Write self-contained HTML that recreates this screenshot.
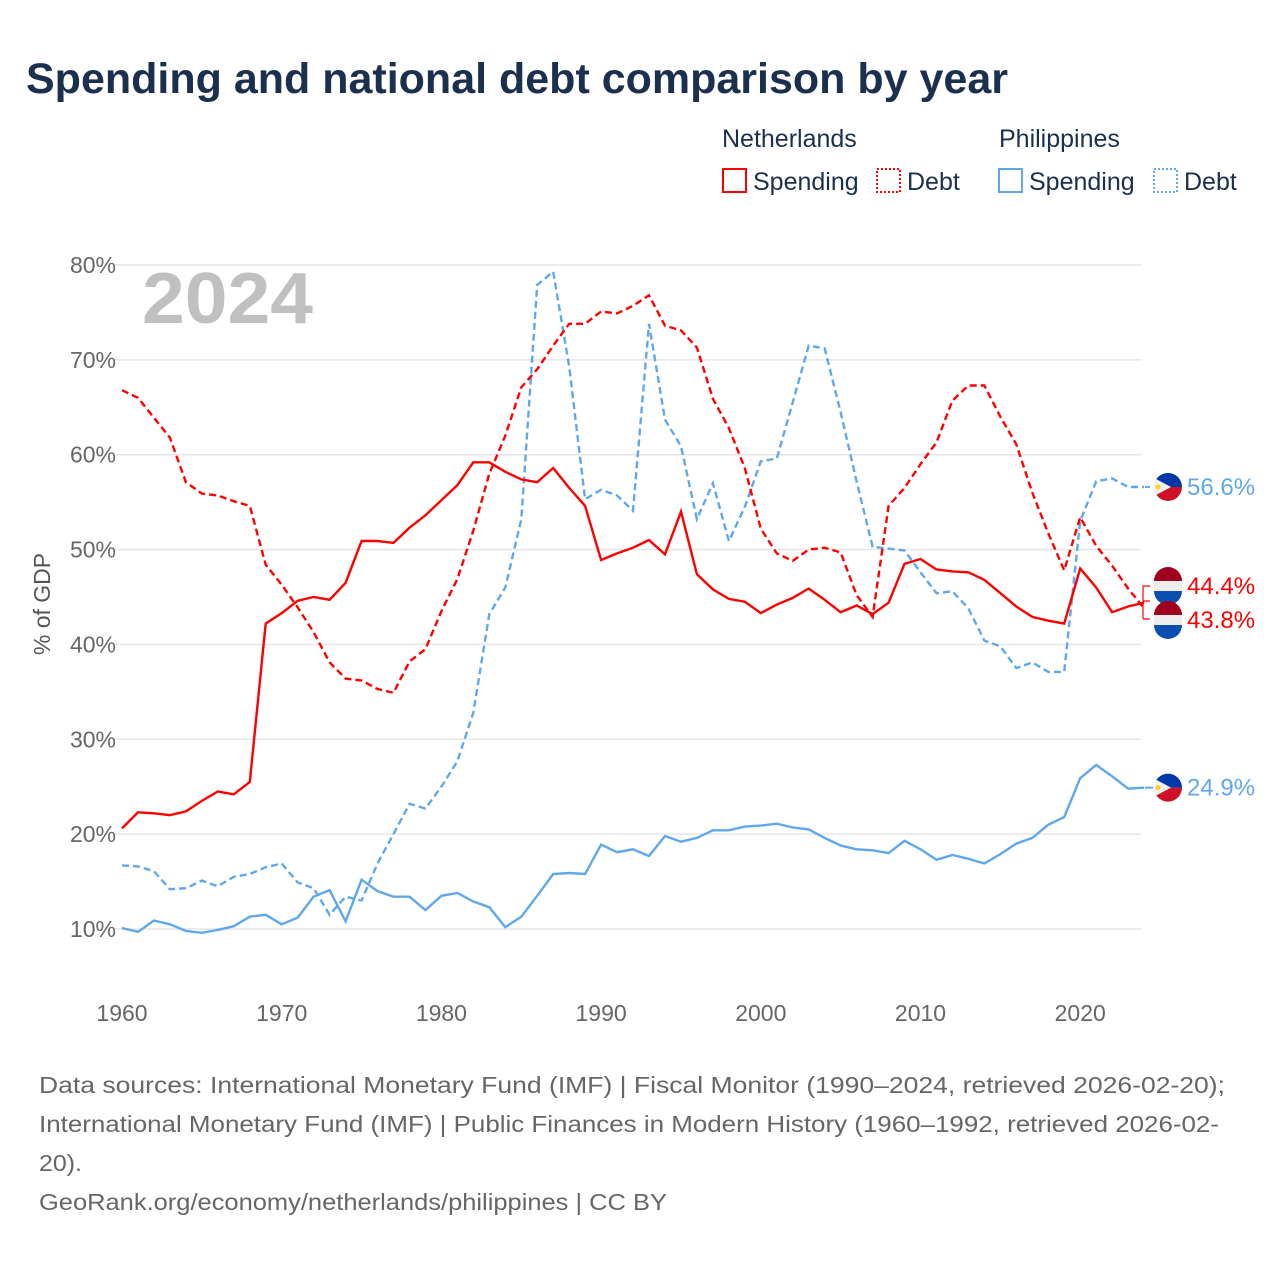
<!DOCTYPE html>
<html><head><meta charset="utf-8"><style>
body{margin:0;width:1280px;height:1280px;background:#fff;font-family:"Liberation Sans",sans-serif;overflow:hidden}
svg{position:absolute;left:0;top:0}
</style></head><body>
<svg id="c" width="1280" height="1280">
<text x="26" y="93" font-size="43" font-weight="bold" fill="#1b2f4e">Spending and national debt comparison by year</text>
<g font-size="25" fill="#1b2f4e">
<text x="722" y="147">Netherlands</text>
<text x="999" y="147">Philippines</text>
<rect x="723" y="169" width="23" height="23" fill="none" stroke="#f00" stroke-width="2"/>
<text x="753" y="190">Spending</text>
<rect x="877" y="169" width="23" height="23" fill="none" stroke="#f00" stroke-width="2" stroke-dasharray="2,2"/>
<text x="907" y="190">Debt</text>
<rect x="999" y="169" width="23" height="23" fill="none" stroke="#5fa8ec" stroke-width="2"/>
<text x="1029" y="190">Spending</text>
<rect x="1154" y="169" width="23" height="23" fill="none" stroke="#5fa8ec" stroke-width="2" stroke-dasharray="2,2"/>
<text x="1184" y="190">Debt</text>
</g>
<g id="grid"></g>
<text x="142" y="323" font-size="72" font-weight="bold" fill="#c0c0c0" textLength="171" lengthAdjust="spacingAndGlyphs">2024</text>
<text transform="translate(50,604) rotate(-90)" text-anchor="middle" font-size="23" fill="#555">% of GDP</text>
<g id="lines"></g>
<g id="ends"></g>
<g font-size="23" fill="#666">
<text x="39" y="1093" textLength="1186" lengthAdjust="spacingAndGlyphs">Data sources: International Monetary Fund (IMF) | Fiscal Monitor (1990–2024, retrieved 2026-02-20);</text>
<text x="39" y="1132" textLength="1180" lengthAdjust="spacingAndGlyphs">International Monetary Fund (IMF) | Public Finances in Modern History (1960–1992, retrieved 2026-02-</text>
<text x="39" y="1171" textLength="43" lengthAdjust="spacingAndGlyphs">20).</text>
<text x="39" y="1210" textLength="628" lengthAdjust="spacingAndGlyphs">GeoRank.org/economy/netherlands/philippines | CC BY</text>
</g>
</svg>
<script>
const years=[];for(let y=1960;y<=2024;y++)years.push(y);
const yTicks=[10,20,30,40,50,60,70,80];
const xTicks=[1960,1970,1980,1990,2000,2010,2020];
const nlSpending=[20.6,22.3,22.2,22.0,22.4,23.5,24.5,24.2,25.5,42.2,43.3,44.6,45.0,44.7,46.5,50.9,50.9,50.7,52.3,53.6,55.2,56.8,59.2,59.2,58.2,57.4,57.1,58.6,56.5,54.6,48.9,49.6,50.2,51.0,49.5,54.0,47.4,45.8,44.8,44.5,43.3,44.2,44.9,45.9,44.7,43.4,44.1,43.2,44.4,48.5,49.0,47.9,47.7,47.6,46.8,45.4,44.0,42.9,42.5,42.2,48.0,46.0,43.4,44.0,44.4];
const nlDebt=[66.8,66.0,63.9,61.8,57.1,55.9,55.7,55.1,54.6,48.4,46.3,43.9,41.3,38.1,36.4,36.2,35.3,34.9,38.2,39.5,43.5,46.9,52.0,58.0,62.0,67.1,69.0,71.5,73.8,73.8,75.1,74.9,75.7,76.8,73.6,73.1,71.3,65.9,62.8,58.6,52.2,49.6,48.8,50.0,50.2,49.7,45.2,42.9,54.6,56.5,59.0,61.3,65.7,67.3,67.3,64.0,61.1,56.0,51.7,47.8,53.4,50.4,48.3,45.9,43.8];
const phSpending=[10.1,9.7,10.9,10.5,9.8,9.6,9.9,10.3,11.3,11.5,10.5,11.2,13.4,14.1,10.8,15.2,14.0,13.4,13.4,12.0,13.5,13.8,12.9,12.3,10.2,11.3,13.5,15.8,15.9,15.8,18.9,18.1,18.4,17.7,19.8,19.2,19.6,20.4,20.4,20.8,20.9,21.1,20.7,20.5,19.6,18.8,18.4,18.3,18.0,19.3,18.4,17.3,17.8,17.4,16.9,17.9,19.0,19.6,21.0,21.8,25.9,27.3,26.1,24.8,24.9];
const phDebt=[16.7,16.6,16.1,14.2,14.3,15.1,14.5,15.5,15.8,16.5,16.9,14.9,14.3,11.5,13.4,13.0,16.9,20.0,23.2,22.7,25.0,27.7,32.8,43.2,46.0,53.2,77.9,79.3,69.3,55.3,56.3,55.7,54.1,73.8,63.7,60.9,53.2,57.0,50.9,54.5,59.3,59.6,65.5,71.5,71.2,64.5,57.2,50.3,50.1,49.9,47.6,45.4,45.6,43.8,40.4,39.8,37.5,38.1,37.1,37.1,53.0,57.2,57.5,56.6,56.6];
const X=y=>122+(y-1960)*15.97;
const Y=v=>929-(v-10)*9.486;
const NS='http://www.w3.org/2000/svg';
function mk(t,a,p){const e=document.createElementNS(NS,t);for(const k in a)e.setAttribute(k,a[k]);p.appendChild(e);return e;}
const grid=document.getElementById('grid');
yTicks.forEach(v=>{
  const l=mk('line',{x1:115,x2:1141,y1:Y(v),y2:Y(v),stroke:'#e6e6e6','stroke-width':1.5},grid);
  
  
  const t=mk('text',{x:116,y:Y(v)+8,'text-anchor':'end','font-size':23,fill:'#666'},grid);
  t.textContent=v+'%';
  
  
});
xTicks.forEach(y=>{
  const t=mk('text',{x:X(y),y:1021,'text-anchor':'middle','font-size':23,fill:'#666'},grid);
  t.textContent=y;
  
  
});
const lines=document.getElementById('lines');
function series(vals,color,dash,name){
  const d=vals.map((v,i)=>(i?'L':'M')+X(years[i]).toFixed(1)+','+Y(v).toFixed(1)).join('');
  const p=mk('path',{d:d,fill:'none',stroke:color,'stroke-width':2.4,'stroke-dasharray':dash},lines);
  
  
}
series(phDebt,'#5fa8ec','7,4','line-philippines-debt');
series(phSpending,'#5fa8ec','none','line-philippines-spending');
series(nlDebt,'#f00','7,4','line-netherlands-debt');
series(nlSpending,'#f00','none','line-netherlands-spending');
const ends=document.getElementById('ends');
function flagPH(cx,cy,g){
  mk('path',{d:`M${cx-14},${cy} A14,14 0 0 1 ${cx+14},${cy} Z`,fill:'#0038a8'},g);
  mk('path',{d:`M${cx-14},${cy} A14,14 0 0 0 ${cx+14},${cy} Z`,fill:'#ce1126'},g);
  mk('path',{d:`M${cx-12},${cy-8} L${cx+3},${cy} L${cx-12},${cy+8} A14,14 0 0 1 ${cx-12},${cy-8} Z`,fill:'#f2f2f2'},g);
  mk('circle',{cx:cx-10,cy:cy,r:2.5,fill:'#fcd116'},g);
}
function flagNL(cx,cy,g){
  mk('path',{d:`M${cx-14},${cy-5} A14,14 0 0 1 ${cx+14},${cy-5} Z`,fill:'#a0001e'},g);
  mk('rect',{x:cx-14,y:cy-5,width:28,height:10,fill:'#eee'},g);
  mk('path',{d:`M${cx-14},${cy+5} A14,14 0 0 0 ${cx+14},${cy+5} Z`,fill:'#0a4fb0'},g);
}
function endLabel(ly,txt,color,isPH,name){
  const g=mk('g',{},ends);
  
  
  if(isPH)flagPH(1168,ly,g);else flagNL(1168,ly,g);
  const t=mk('text',{x:1187,y:ly+8,'font-size':24,fill:color},g);
  t.textContent=txt;
}
mk('line',{x1:1145,y1:Y(phDebt[64]),x2:1153,y2:Y(phDebt[64]),stroke:'#5fa8ec','stroke-width':2,'stroke-dasharray':'5,3'},ends);
mk('line',{x1:1145,y1:Y(phSpending[64]),x2:1153,y2:Y(phSpending[64]),stroke:'#5fa8ec','stroke-width':2},ends);
mk('path',{d:'M1150,586 L1143,586 L1143,601 L1150,601 M1143,619 L1143,601 M1143,619 L1150,619',fill:'none',stroke:'#f00','stroke-width':1.2},ends);
endLabel(Y(phDebt[64]),'56.6%','#5fa8ec',true,'end-label-ph-debt');
endLabel(586,'44.4%','#f00',false,'end-label-nl-spending');
endLabel(620,'43.8%','#f00',false,'end-label-nl-debt');
endLabel(Y(phSpending[64]),'24.9%','#5fa8ec',true,'end-label-ph-spending');
</script>
</body></html>
